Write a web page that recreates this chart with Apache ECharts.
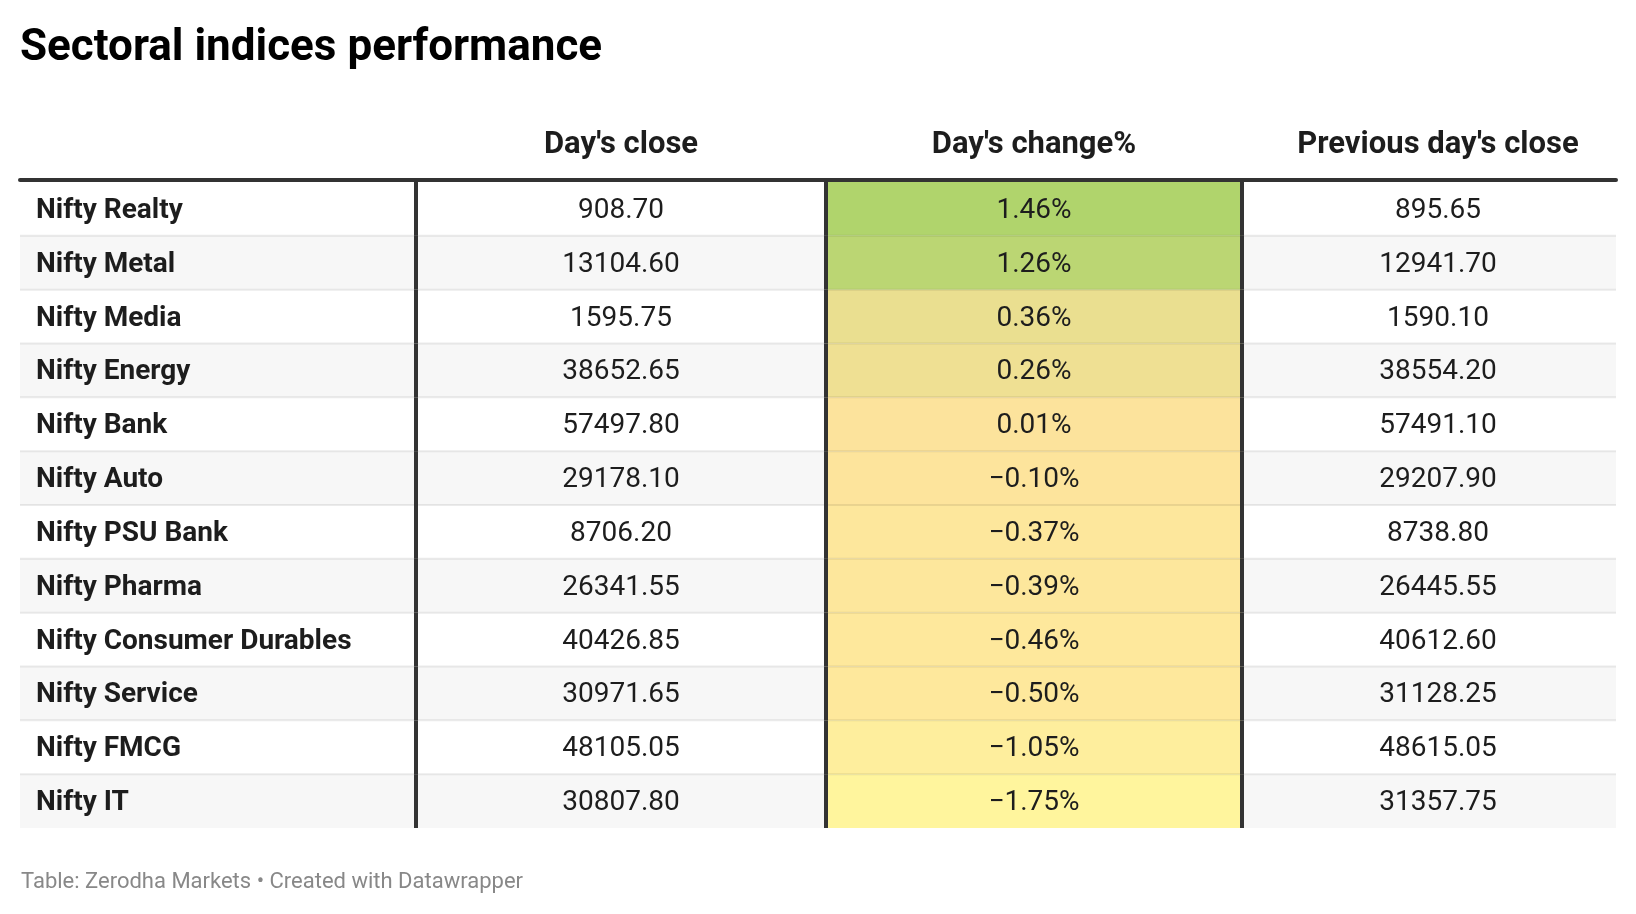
<!DOCTYPE html>
<html>
<head>
<meta charset="utf-8">
<script src="https://cdn.jsdelivr.net/npm/echarts@6/dist/echarts.min.js"></script>
<style>
  html, body { margin: 0; padding: 0; background: #fff; }
  #chart { width: 1636px; height: 914px; }
</style>
</head>
<body>
<div id="chart"></div>
<script>
// table data
const indices = ['Nifty Realty', 'Nifty Metal', 'Nifty Media', 'Nifty Energy', 'Nifty Bank', 'Nifty Auto',
  'Nifty PSU Bank', 'Nifty Pharma', 'Nifty Consumer Durables', 'Nifty Service', 'Nifty FMCG', 'Nifty IT'];
const dayClose = [908.70, 13104.60, 1595.75, 38652.65, 57497.80, 29178.10,
  8706.20, 26341.55, 40426.85, 30971.65, 48105.05, 30807.80];
const dayChange = [1.46, 1.26, 0.36, 0.26, 0.01, -0.10, -0.37, -0.39, -0.46, -0.50, -1.05, -1.75];
const prevClose = [895.65, 12941.70, 1590.10, 38554.20, 57491.10, 29207.90,
  8738.80, 26445.55, 40612.60, 31128.25, 48615.05, 31357.75];
const headers = ['', "Day's close", "Day's change%", "Previous day's close"];

// layout (grid units = px from left edge of the table)
const colEdges = [0, 396, 806, 1222, 1596];
const textShift = [16, 0, 0, 9];
const FONT = 'Roboto, "Noto Sans", sans-serif';

const maxChange = Math.max(...dayChange);
const minChange = Math.min(...dayChange);
function heat(v) {
  if (v >= 0) return echarts.color.lerp(v / maxChange, ['#fde39c', '#b0d46c']);
  return echarts.color.lerp(v / minChange, ['#fde39c', '#fff59d']);
}
function fmt(v) {
  return (v < 0 ? '\u2212' : '') + Math.abs(v).toFixed(2);
}
function cellText(c, r) {
  if (c === 0) return indices[r];
  if (c === 1) return fmt(dayClose[r]);
  if (c === 2) return fmt(dayChange[r]) + '%';
  return fmt(prevClose[r]);
}

const cells = [];
indices.forEach((n, r) => { for (let c = 0; c < 4; c++) cells.push([c, r]); });

const chart = echarts.init(document.getElementById('chart'));

chart.setOption({
  animation: false,
  title: [{
    text: 'Sectoral indices performance',
    left: 20, top: 27, padding: 0,
    textStyle: { fontFamily: FONT, fontSize: 44, fontWeight: 'bold', color: '#000' }
  }, {
    text: 'Table: Zerodha Markets \u2022 Created with Datawrapper',
    left: 21, top: 871, padding: 0,
    textStyle: { fontFamily: FONT, fontSize: 22, fontWeight: 'normal', color: '#888' }
  }],
  grid: { left: 20, right: 20, top: 182, bottom: 86 },
  xAxis: {
    type: 'value', min: 0, max: 1596, position: 'top', offset: 2,
    axisLine: { show: true, onZero: false, lineStyle: { color: '#333', width: 4 } },
    axisTick: { show: false }, axisLabel: { show: false }, splitLine: { show: false }
  },
  yAxis: { type: 'category', data: indices, inverse: true, show: false },
  series: [{
    // cells: fill + text
    type: 'custom',
    data: cells,
    silent: true,
    renderItem: function (params, api) {
      const c = api.value(0), r = api.value(1);
      const p0 = api.coord([colEdges[c], r]);
      const p1 = api.coord([colEdges[c + 1], r]);
      const h = api.size([0, 1])[1];
      const y0 = p0[1] - h / 2;
      const fill = c === 2 ? heat(dayChange[r]) : (r % 2 ? '#f7f7f7' : '#fff');
      const tx = c === 0 ? p0[0] + textShift[0] : (p0[0] + p1[0]) / 2 + textShift[c];
      return {
        type: 'group',
        children: [{
          type: 'rect',
          shape: { x: p0[0], y: y0, width: p1[0] - p0[0], height: h },
          style: { fill: fill }
        }, {
          type: 'text',
          style: {
            x: tx, y: p0[1] + 2, text: cellText(c, r),
            font: (c === 0 ? 'bold ' : '') + '28px ' + FONT,
            fill: '#1d1d1d', align: c === 0 ? 'left' : 'center', verticalAlign: 'middle'
          }
        }]
      };
    }
  }, {
    // row separators and column rules
    type: 'custom',
    data: indices.map((n, r) => [0, r]),
    silent: true,
    z: 3,
    renderItem: function (params, api) {
      const r = api.value(1);
      const pl = api.coord([colEdges[0], r]);
      const pr = api.coord([colEdges[4], r]);
      const h = api.size([0, 1])[1];
      const y0 = pl[1] - h / 2, y1 = pl[1] + h / 2;
      const children = [];
      if (r < indices.length - 1) {
        children.push({
          type: 'line',
          shape: { x1: pl[0], y1: y1, x2: pr[0], y2: y1 },
          style: { stroke: 'rgba(0,0,0,0.08)', lineWidth: 2 }
        });
      }
      for (let c = 1; c < 4; c++) {
        const x = api.coord([colEdges[c], r])[0];
        children.push({
          type: 'line',
          shape: { x1: x, y1: r === 0 ? y0 - 2 : y0, x2: x, y2: y1 },
          style: { stroke: '#333', lineWidth: 4 }
        });
      }
      return { type: 'group', children: children };
    }
  }, {
    // column headers
    type: 'custom',
    data: headers.map((t, c) => [c, 0]),
    silent: true,
    renderItem: function (params, api) {
      const c = api.value(0);
      const p0 = api.coord([colEdges[c], 0]);
      const p1 = api.coord([colEdges[c + 1], 0]);
      const h = api.size([0, 1])[1];
      return {
        type: 'text',
        style: {
          x: (p0[0] + p1[0]) / 2 + textShift[c], y: p0[1] - h / 2 - 37,
          text: headers[c], font: 'bold 31px ' + FONT,
          fill: '#1d1d1d', align: 'center', verticalAlign: 'middle'
        }
      };
    }
  }]
});
</script>
</body>
</html>
